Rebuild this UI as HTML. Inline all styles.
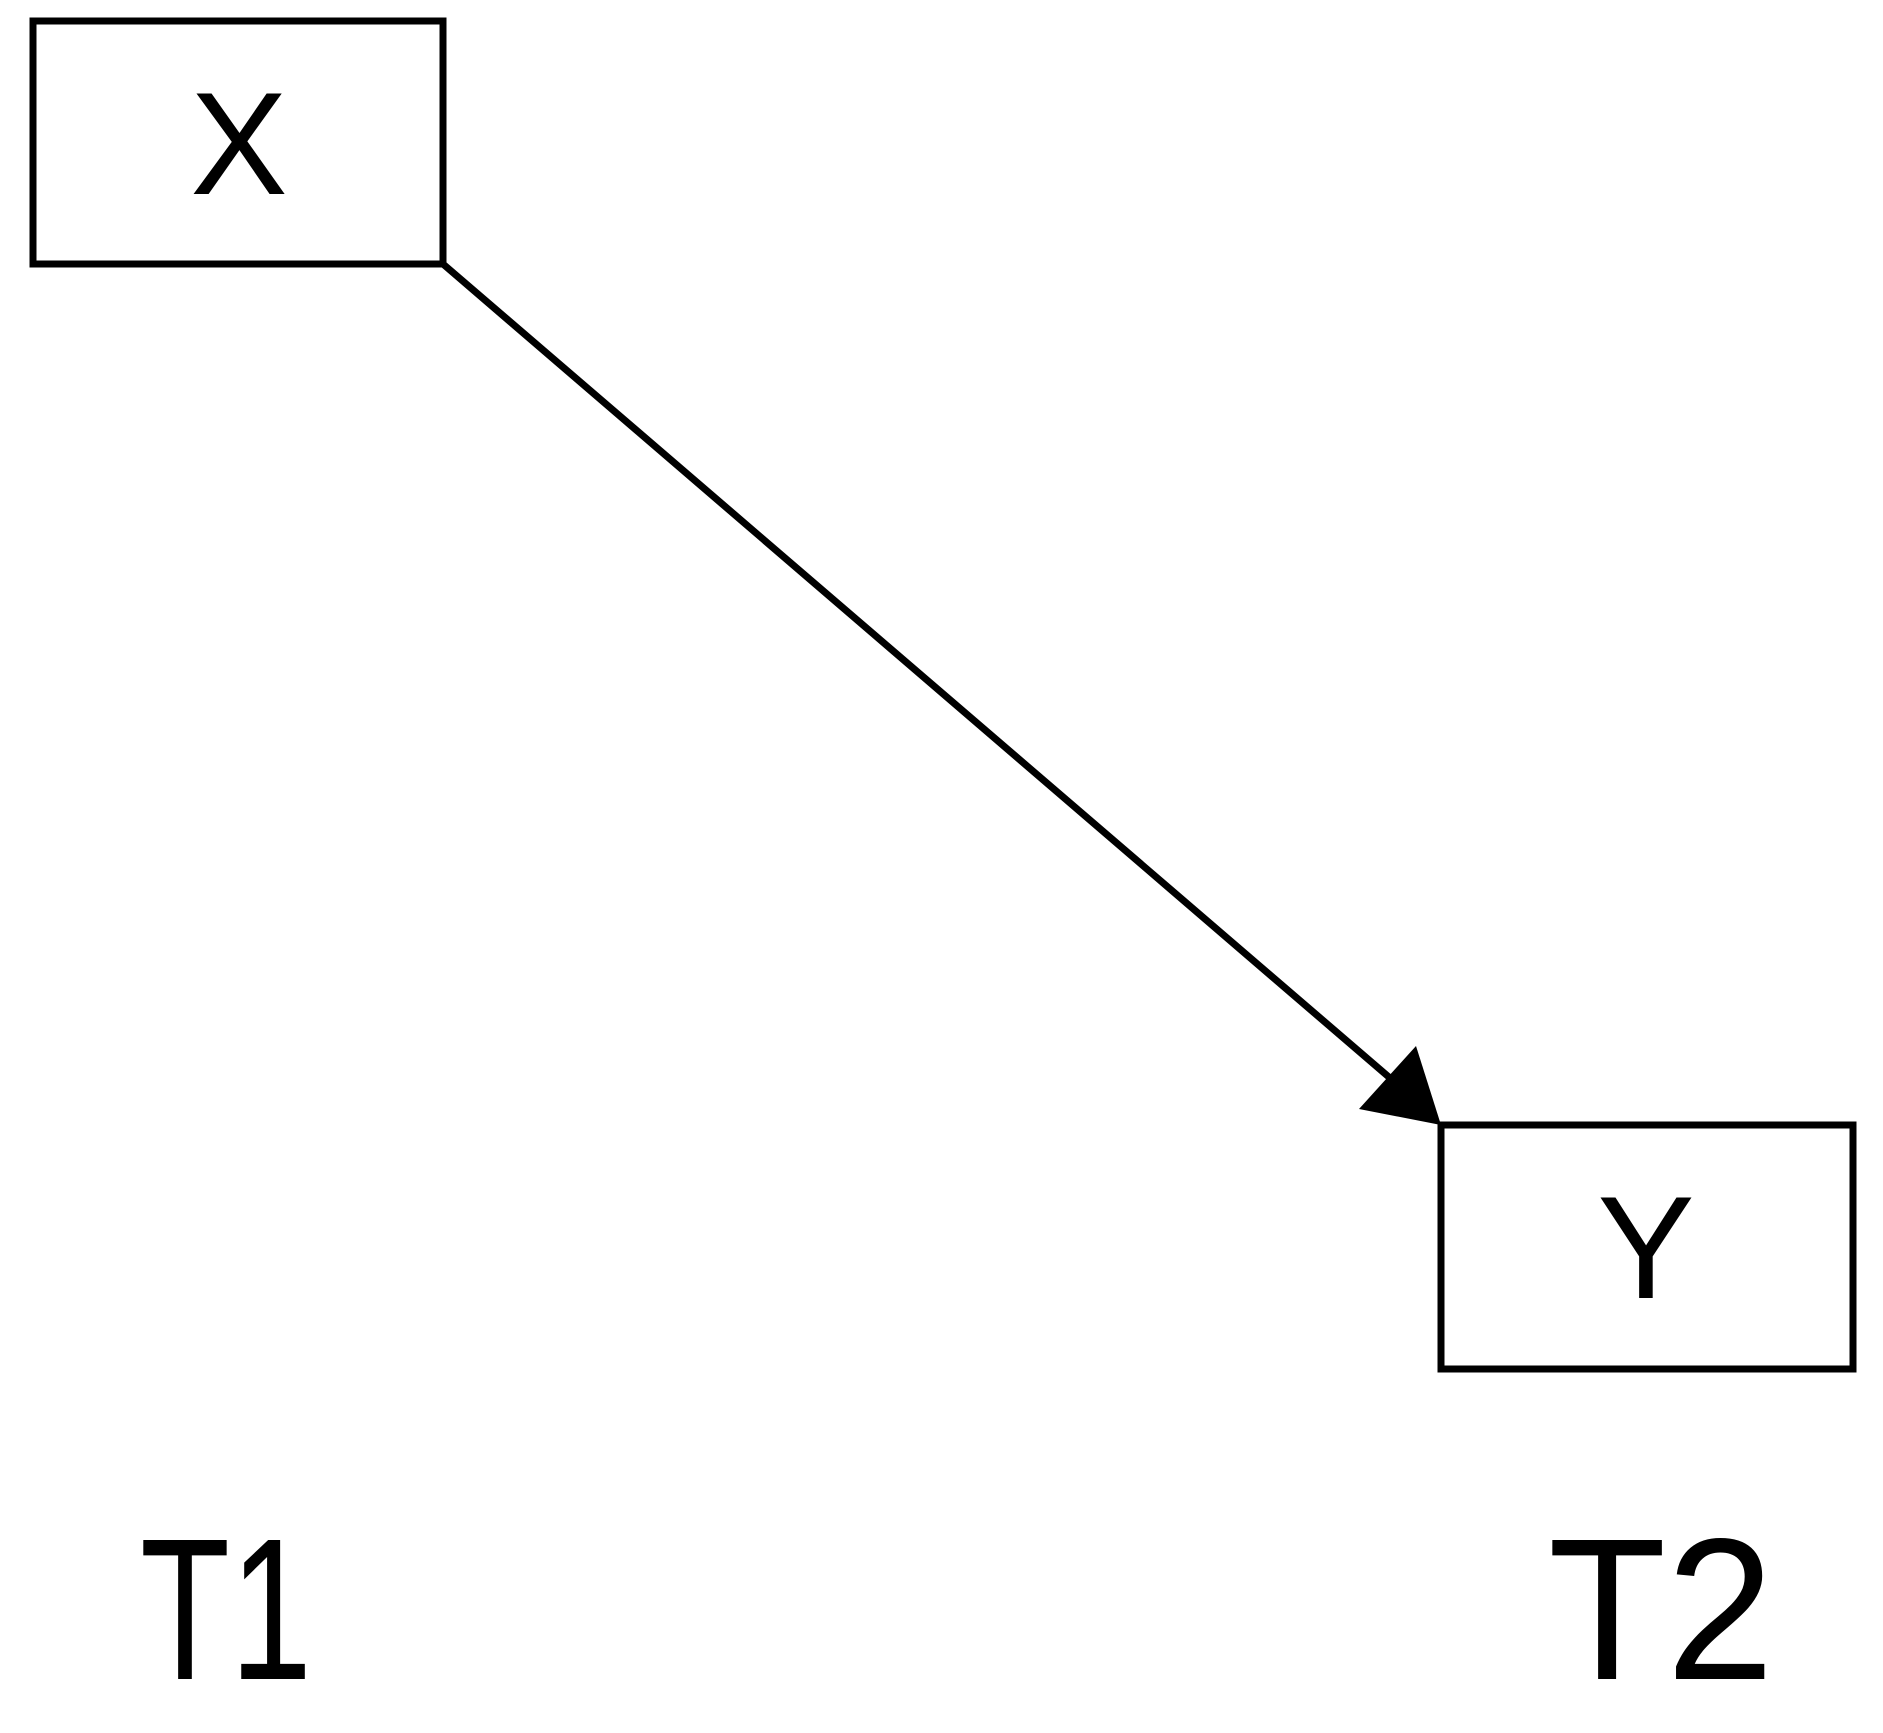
<!DOCTYPE html>
<html><head><style>body{margin:0;background:#fff}</style></head><body>
<svg width="1883" height="1733" viewBox="0 0 1883 1733" xmlns="http://www.w3.org/2000/svg" style="display:block">
<rect x="33" y="21" width="410" height="243" fill="none" stroke="#000" stroke-width="7"/>
<rect x="1441" y="1125" width="412" height="244" fill="none" stroke="#000" stroke-width="7"/>
<line x1="443" y1="264" x2="1390" y2="1078" stroke="#000" stroke-width="7"/>
<polygon points="1441,1125 1359,1109 1416,1046" fill="#000"/>
<g font-family="Liberation Sans, sans-serif" text-anchor="middle" fill="#000">
<text x="239" y="194" font-size="146">X</text>
<text x="1646" y="1298" font-size="146">Y</text>
<text x="226" y="1679" font-size="202" textLength="172" lengthAdjust="spacingAndGlyphs">T1</text>
<text x="1661" y="1679" font-size="202" textLength="226" lengthAdjust="spacingAndGlyphs">T2</text>
</g>
</svg>
</body></html>
